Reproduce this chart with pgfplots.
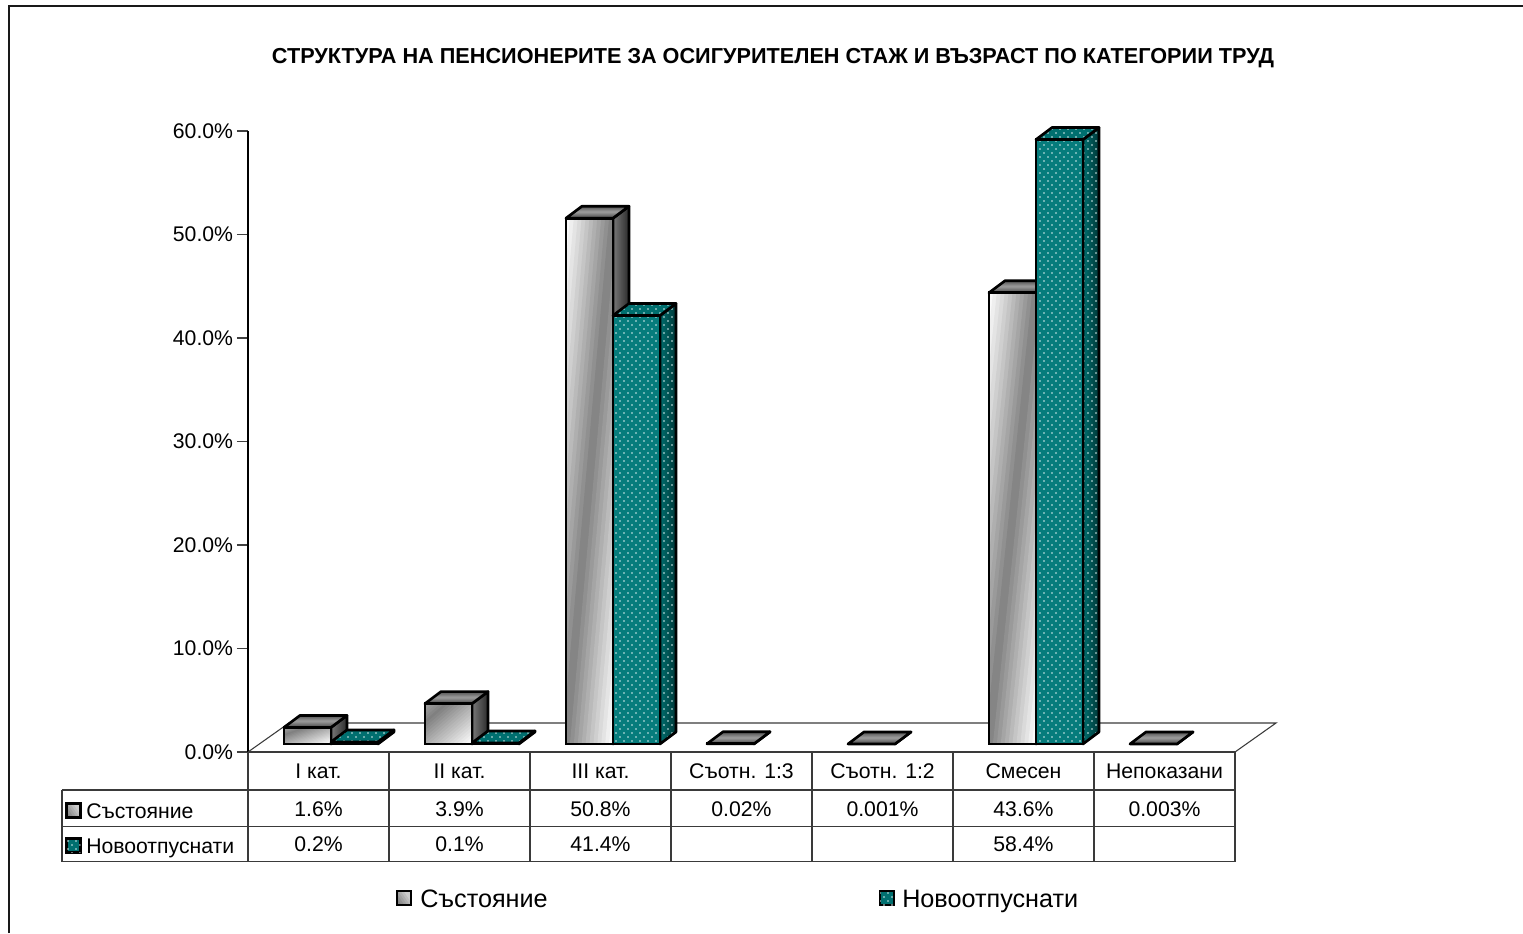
\documentclass[border=0pt]{standalone}
\usepackage{pgfplots}
\usepackage{pgfplotstable}
\usepackage{fontspec}
\usetikzlibrary{patterns}
\pgfplotsset{compat=1.18}
\setmainfont{Liberation Sans}
\definecolor{tealf}{HTML}{067C7C}
\definecolor{teall}{HTML}{006F6F}
\definecolor{teald}{HTML}{003A3A}
\definecolor{dotc}{HTML}{D5ECEC}
\definecolor{lgrey}{HTML}{3A3A3A}
\colorlet{sA}{black!52}
\colorlet{sB}{black!82}
\colorlet{tA}{black!70}
\colorlet{tB}{black!38}
\pgfdeclarepatternformonly{wdots}{\pgfqpoint{-1pt}{-1pt}}{\pgfqpoint{5pt}{5pt}}{\pgfqpoint{6pt}{6pt}}{%
  \pgfpathcircle{\pgfqpoint{0pt}{0pt}}{0.62pt}%
  \pgfpathcircle{\pgfqpoint{3pt}{3pt}}{0.62pt}%
  \pgfusepath{fill}}
\tikzset{
  fc/.style={draw=black,line width=2pt,line join=round},
  dots/.style={pattern=wdots,pattern color=dotc},
}
\pgfplotstableread{
x val
0.5 1.6
1.5 3.9
2.5 50.8
3.5 0.02
4.5 0.001
5.5 43.6
6.5 0.003
}\tabA
\pgfplotstableread{
x val
0.5 0.2
1.5 0.1
2.5 41.4
5.5 58.4
}\tabB
% gradient along e1 of the parallelogram (x0,y0),(e1x,e1y),(e2x,e2y); #7,#8 colours; #9=1 mirrored
\newcommand\gradpar[9]{%
  \foreach \k in {0,...,11}{%
    \pgfmathsetmacro\f{\k/12}%
    \pgfmathsetmacro\g{(#9==1)*(1-abs(2*(\k+0.5)/12-1))+(#9==0)*(\k+0.5)/12}%
    \pgfmathsetmacro\p{100*(1-\g)}%
    \pgfmathsetmacro\ax{#1+\f*(#3)}%
    \pgfmathsetmacro\ay{#2+\f*(#4)}%
    \pgfmathsetmacro\bx{\ax+(#5)}%
    \pgfmathsetmacro\by{\ay+(#6)}%
    \pgfmathsetmacro\cx{#1+(#3)+(#5)}%
    \pgfmathsetmacro\cy{#2+(#4)+(#6)}%
    \pgfmathsetmacro\dx{#1+(#3)}%
    \pgfmathsetmacro\dy{#2+(#4)}%
    \fill[#7!\p!#8] (axis cs:\ax,\ay) -- (axis cs:\bx,\by) -- (axis cs:\cx,\cy) -- (axis cs:\dx,\dy) -- cycle;
  }%
}
\newcommand\setbar[2]{%
  \pgfmathsetmacro\xa{#1}%
  \pgfmathsetmacro\xb{#1+0.33333}%
  \pgfmathsetmacro\xc{#1+0.33333+0.1135}%
  \pgfmathsetmacro\xd{#1+0.1135}%
  \pgfmathsetmacro\ya{0.7729}%
  \pgfmathsetmacro\yb{0.7729+1.1594}%
  \pgfmathsetmacro\yc{0.7729+#2}%
  \pgfmathsetmacro\yd{0.7729+#2+1.1594}%
}
\newcommand\sidepath{(axis cs:\xb,\ya) -- (axis cs:\xc,\yb) -- (axis cs:\xc,\yd) -- (axis cs:\xb,\yc) -- cycle}
\newcommand\toppath{(axis cs:\xa,\yc) -- (axis cs:\xb,\yc) -- (axis cs:\xc,\yd) -- (axis cs:\xd,\yd) -- cycle}
% gray bar: x of front-left corner, value, start of the diagonal gradient
\newcommand\graybar[3]{\pgfplotsextra{%
  \setbar{#1}{#2}%
  \gradpar{\xb}{\ya}{0.1135}{1.1594}{0}{#2}{sA}{sB}{0}%
  \setbar{#1}{#2}%
  \path[fc] \sidepath;
  \gradpar{\xa}{\yc}{0.1135}{1.1594}{0.33333}{0}{tA}{tB}{1}%
  \setbar{#1}{#2}%
  \path[fc] \toppath;
  \begin{scope}
    \clip (axis cs:\xa,\ya) rectangle (axis cs:\xb,\yc);
    \foreach \k in {0,...,23}{%
      \pgfmathsetmacro\f{\k/24}%
      \pgfmathsetmacro\u{#3+(1-#3)*(\k+0.5)/24}%
      \pgfmathsetmacro\p{50*(1-abs(2*\u-1))}%
      \pgfmathsetmacro\pax{\xa+(2*\f-2)*0.33333}%
      \pgfmathsetmacro\pay{\ya-#2}%
      \pgfmathsetmacro\pbx{\xa+(2*\f+1)*0.33333}%
      \pgfmathsetmacro\pby{\ya+2*#2}%
      \pgfmathsetmacro\pcx{\xa+3*0.33333}%
      \fill[black!\p!white] (axis cs:\pax,\pay) -- (axis cs:\pbx,\pby) -- (axis cs:\pcx,\pby) -- (axis cs:\pcx,\pay) -- cycle;
    }%
  \end{scope}
}}
% teal bar: side and top, front comes from the ybar plot
\newcommand\tealbar[2]{\pgfplotsextra{%
  \setbar{#1}{#2}%
  \gradpar{\xb}{\ya}{0.1135}{1.1594}{0}{#2}{teall}{teald}{0}%
  \setbar{#1}{#2}%
  \path[dots] \sidepath;
  \path[fc] \sidepath;
  \path[fill=teall] \toppath;
  \path[dots] \toppath;
  \path[fc] \toppath;
}}
% legend key: diagonal grey gradient in a square
\newcommand\graykey[2]{%
  \begin{scope}
    \clip (#1,#2) rectangle ++(14,14);
    \foreach \k in {0,...,9}{%
      \pgfmathsetmacro\p{72-52*\k/9}%
      \pgfmathsetmacro\ox{#1+2.8*\k-28}%
      \fill[black!\p!white] (\ox,#2-14) -- (\ox+28,#2+28) -- (#1+30,#2+28) -- (#1+30,#2-14) -- cycle;
    }%
  \end{scope}
  \draw[black,line width=1.6pt] (#1,#2) rectangle ++(14,14);
}
\newcommand\ah{\fontsize{15.9pt}{18pt}\selectfont}
\newcommand\lh{\fontsize{18.9pt}{21pt}\selectfont}
\begin{document}
\begin{tikzpicture}
\begin{scope}[x=0.75pt,y=-0.75pt,shift={(-186pt,564pt)}]
  \path[use as bounding box] (0,0) rectangle (1523,933);
  \draw[line width=1.5pt,draw=black!90] (9.5,933) -- (9.5,6.5) -- (1523,6.5);
  \draw[line width=0.8pt,draw=lgrey] (248,752) -- (289,723) -- (1276,723) -- (1235,752);
\end{scope}
\begin{axis}[
  at={(0pt,0pt)},anchor=origin,
  scale only axis,width=740.25pt,height=465.75pt,
  xmin=0,xmax=7,ymin=0,ymax=60,
  clip=false,
  axis y line=left,axis x line=none,
  axis line style={-,line width=0.8pt,black},
  ytick={0,10,20,30,40,50,60},
  yticklabels={0.0\%,10.0\%,20.0\%,30.0\%,40.0\%,50.0\%,60.0\%},
  tick align=outside,
  major tick length=8.25pt,
  tick style={black!75,line width=0.8pt},
  yticklabel style={font=\ah,inner sep=0pt,xshift=-2.75pt},
]
% gray series
\graybar{0.2553}{1.6}{0.35}
\graybar{1.2553}{3.9}{0.35}
\graybar{2.2553}{50.8}{0}
\graybar{3.2553}{0.02}{0}
\graybar{4.2553}{0.001}{0}
\graybar{5.2553}{43.6}{0}
\graybar{6.2553}{0.003}{0}
\addplot[ybar,bar width=35.25pt,bar shift=-8.25pt,yshift=6pt,draw=black,line width=2pt,fill=none] table[x=x,y=val] {\tabA};
% teal series
\tealbar{0.58863}{0.2}
\tealbar{1.58863}{0.1}
\tealbar{2.58863}{41.4}
\tealbar{5.58863}{58.4}
\addplot[ybar,bar width=35.25pt,bar shift=27pt,yshift=6pt,draw=black,line width=2pt,fill=tealf,postaction={pattern=wdots,pattern color=dotc}] table[x=x,y=val] {\tabB};
\addplot[ybar,bar width=35.25pt,bar shift=27pt,yshift=6pt,draw=black,line width=2pt,fill=none] table[x=x,y=val] {\tabB};
\end{axis}
\begin{scope}[x=0.75pt,y=-0.75pt,shift={(-186pt,564pt)}]
  % table
  \draw[line width=0.8pt,draw=lgrey] (248,752) -- (1235,752);
  \draw[line width=0.8pt,draw=lgrey] (62,790) -- (1235,790) (62,826.5) -- (1235,826.5) (62,861.5) -- (1235,861.5) (62,790) -- (62,861.5);
  \foreach \x in {248,389,530,671,812,953,1094,1235}
    \draw[line width=0.8pt,draw=lgrey] (\x,752) -- (\x,861.5);
  % category names
  \foreach \x/\t in {318.5/I кат.,459.5/II кат.,600.5/III кат.,741.5/Съотн. 1:3,882.5/Съотн. 1:2,1023.5/Смесен,1164.5/Непоказани}
    \node[anchor=base,inner sep=0pt,font=\ah] at (\x,778) {\t};
  \foreach \x/\t in {318.5/1.6\%,459.5/3.9\%,600.5/50.8\%,741.5/0.02\%,882.5/0.001\%,1023.5/43.6\%,1164.5/0.003\%}
    \node[anchor=base,inner sep=0pt,font=\ah] at (\x,816) {\t};
  \foreach \x/\t in {318.5/0.2\%,459.5/0.1\%,600.5/41.4\%,1023.5/58.4\%}
    \node[anchor=base,inner sep=0pt,font=\ah] at (\x,851.5) {\t};
  \node[anchor=base west,inner sep=0pt,font=\ah] at (86,818) {Състояние};
  \node[anchor=base west,inner sep=0pt,font=\ah] at (86,853.5) {Новоотпуснати};
  % keys in the table
  \graykey{66.5}{803.5}
  \path[draw=black,line width=1.6pt,fill=teall,postaction={pattern=wdots,pattern color=dotc}] (66.5,838.5) rectangle (80.5,852.5);
  % legend
  \graykey{397}{891}
  \node[anchor=base west,inner sep=0pt,font=\lh] at (420,907) {Състояние};
  \path[draw=black,line width=1.6pt,fill=teall,postaction={pattern=wdots,pattern color=dotc}] (880,891) rectangle (894,905);
  \node[anchor=base west,inner sep=0pt,font=\lh] at (902,907) {Новоотпуснати};
  % title
  \node[anchor=base,inner sep=0pt,font=\fontsize{16.25pt}{18pt}\selectfont\bfseries] at (773,64) {СТРУКТУРА НА ПЕНСИОНЕРИТЕ ЗА ОСИГУРИТЕЛЕН СТАЖ И ВЪЗРАСТ ПО КАТЕГОРИИ ТРУД};
\end{scope}
\end{tikzpicture}
\end{document}
